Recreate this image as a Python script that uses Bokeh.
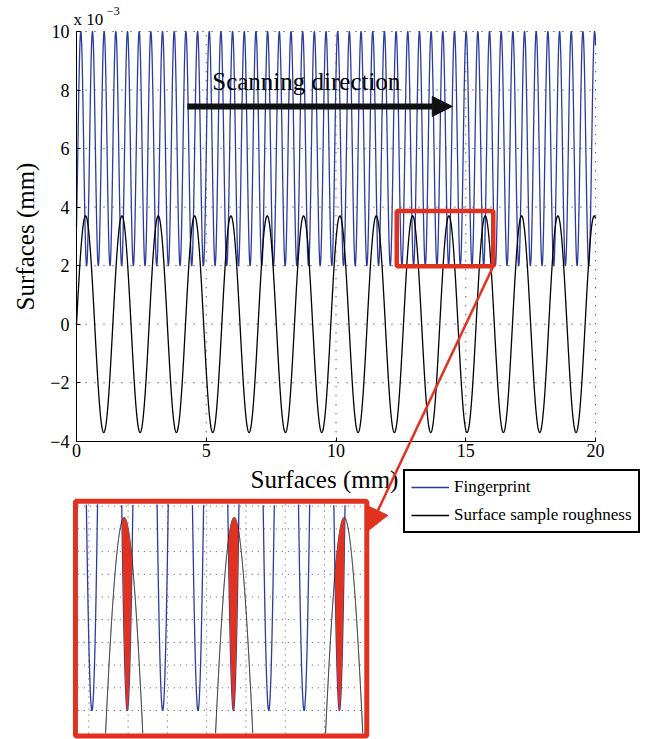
import numpy as np
from bokeh.plotting import figure
from bokeh.models import Range1d, FixedTicker, Legend, LegendItem, Arrow, NormalHead
from bokeh.embed import file_html
from bokeh.resources import INLINE
from bokeh.core.properties import value

# ---------------- data (surface heights in 1e-3 mm) ----------------
x_ticks = [0, 5, 10, 15, 20]
y_ticks = [-4, -2, 0, 2, 4, 6, 8, 10]
y_tick_labels = {-4: "\u22124", -2: "\u22122", 0: "0", 2: "2", 4: "4", 6: "6", 8: "8", 10: "10"}
x_extent = [0.0, 20.0]
y_extent = [-4.0, 10.0]
axis_title = "Surfaces (mm)"

# Fingerprint: oscillates between 2 and 10 (x1e-3), period ~0.45 mm, first trough at ~0.39 mm
fingerprint_mean = 6.0
fingerprint_amplitude = 4.0
fingerprint_period = 0.45
fingerprint_first_trough = 0.39
# Surface sample roughness: amplitude ~3.7 (x1e-3), period ~1.4 mm, starts at 0 going up
roughness_amplitude = 3.7
roughness_period = 1.4

# zoomed window (red box in the main plot) and the inset's view
zoom_box_x = [12.34, 16.06]
zoom_box_y = [1.98, 3.87]
inset_view_x = [12.36, 16.00]
inset_view_y = [1.797, 3.821]
inset_x_grid = [12.5, 13.0, 13.5, 14.0, 14.5, 15.0, 15.5]
inset_y_grid = [2.0, 2.2, 2.4, 2.6, 2.8, 3.0, 3.2, 3.4, 3.6, 3.8]

series_names = ["Fingerprint", "Surface sample roughness"]

# ---------------- styles / layout ----------------
BLUE = "#2b3c9e"
RED = "#e1321f"
SERIF = "Liberation Serif"
W, H = 646, 739

def fingerprint(x):
    return fingerprint_mean - fingerprint_amplitude * np.cos(2 * np.pi * (x - fingerprint_first_trough) / fingerprint_period)

def roughness(x):
    return roughness_amplitude * np.sin(2 * np.pi * x / roughness_period)

xs = np.linspace(x_extent[0], x_extent[1], 16001)
fp = fingerprint(xs)
rg = roughness(xs)

p = figure(width=W, height=H,
           x_range=Range1d(-2.929, 21.965), y_range=Range1d(-14.189, 11.059),
           min_border=0, min_border_left=0, min_border_right=0, min_border_top=0, min_border_bottom=0,
           toolbar_location=None, output_backend="svg")
p.title.visible = False
p.outline_line_color = None
p.xgrid.visible = False
p.ygrid.visible = False
p.background_fill_color = "white"
p.border_fill_color = "white"

# inset ranges (map the whole frame)
p.extra_x_ranges = {"ix": Range1d(11.376, 19.598)}
p.extra_y_ranges = {"iy": Range1d(1.7445, 8.2555)}

# ---------------- main plot grid ----------------
gx = [t for t in x_ticks if t > x_extent[0]]
p.segment(x0=gx, x1=gx, y0=[y_extent[0]] * len(gx), y1=[y_extent[1]] * len(gx),
          line_color="#222222", line_width=1, line_dash="1 8")
gy = [t for t in y_ticks if t > y_extent[0]]
p.segment(x0=[x_extent[0]] * len(gy), x1=[x_extent[1]] * len(gy), y0=gy, y1=gy,
          line_color="#222222", line_width=1, line_dash="1 8")

# ---------------- main curves ----------------
r_fp = p.line(xs, fp, line_color=BLUE, line_width=1.3)
r_rg = p.line(xs, rg, line_color="black", line_width=1.3)

# red zoom box
p.quad(left=[zoom_box_x[0]], right=[zoom_box_x[1]], bottom=[zoom_box_y[0]], top=[zoom_box_y[1]],
       fill_color=None, line_color=RED, line_width=4.5)

# scanning direction
p.add_layout(Arrow(x_start=4.27, y_start=7.44, x_end=14.48, y_end=7.44,
                   line_color="#111111", line_width=6,
                   end=NormalHead(size=20, fill_color="#111111", line_color="#111111")))
p.text(x=[5.23], y=[8.275], text=["Scanning direction"], text_font=value(SERIF),
       text_font_size="25px", text_baseline="middle", text_align="left", text_color="black")

# exponent label
p.text(x=[-0.12], y=[10.41], text=["x 10"], text_font=value(SERIF), text_font_size="17px",
       text_baseline="middle", text_align="left", text_color="black")
p.text(x=[1.17], y=[10.69], text=["\u22123"], text_font=value(SERIF), text_font_size="12px",
       text_baseline="middle", text_align="left", text_color="black")

# x axis title (placed as in the picture, slightly left of the axis centre)
p.text(x=[9.557], y=[-5.306], text=[axis_title], text_font=value(SERIF), text_font_size="25px",
       text_baseline="middle", text_align="center", text_color="black")

# ---------------- axes ----------------
xa = p.xaxis[0]
xa.fixed_location = y_extent[0]
xa.bounds = (x_extent[0], x_extent[1])
xa.ticker = FixedTicker(ticks=x_ticks)
ya = p.yaxis[0]
ya.fixed_location = x_extent[0]
ya.bounds = (y_extent[0], y_extent[1])
ya.ticker = FixedTicker(ticks=y_ticks)
ya.major_label_overrides = y_tick_labels
for ax in (xa, ya):
    ax.major_tick_in = 4
    ax.major_tick_out = 0
    ax.minor_tick_in = 0
    ax.minor_tick_out = 0
    ax.axis_line_color = "black"
    ax.axis_line_width = 1
    ax.major_tick_line_color = "black"
    ax.major_label_text_font = SERIF
    ax.major_label_text_font_size = "18px"
    ax.major_label_text_color = "black"
    ax.axis_label_text_font = SERIF
    ax.axis_label_text_font_size = "25px"
    ax.axis_label_text_font_style = "normal"
    ax.axis_label_text_color = "black"
ya.axis_label = axis_title
xa.major_label_standoff = 3
ya.major_label_standoff = 7
ya.axis_label_standoff = 8

# ---------------- inset ----------------
xi = np.linspace(inset_view_x[0], inset_view_x[1], 12001)
fpi = fingerprint(xi)
rgi = roughness(xi)
fpi_c = np.where((fpi > inset_view_y[1]) | (fpi < inset_view_y[0]), np.nan, fpi)
rgi_c = np.where((rgi > inset_view_y[1]) | (rgi < inset_view_y[0]), np.nan, rgi)

p.segment(x0=inset_x_grid, x1=inset_x_grid,
          y0=[inset_view_y[0]] * len(inset_x_grid), y1=[inset_view_y[1]] * len(inset_x_grid),
          line_color="#555555", line_width=1, line_dash="1 5", x_range_name="ix", y_range_name="iy")
p.segment(x0=[inset_view_x[0]] * len(inset_y_grid), x1=[inset_view_x[1]] * len(inset_y_grid),
          y0=inset_y_grid, y1=inset_y_grid,
          line_color="#555555", line_width=1, line_dash="1 5", x_range_name="ix", y_range_name="iy")

p.line(xi, fpi_c, line_color=BLUE, line_width=1.3, x_range_name="ix", y_range_name="iy")
p.line(xi, rgi_c, line_color="black", line_width=1.0, x_range_name="ix", y_range_name="iy")
p.varea(x=xi, y1=np.minimum(fpi, rgi), y2=rgi, fill_color=RED, fill_alpha=1.0,
        x_range_name="ix", y_range_name="iy")

p.quad(left=[12.33], right=[16.038], bottom=[1.775], top=[3.843], fill_color=None,
       line_color=RED, line_width=5, x_range_name="ix", y_range_name="iy")

# connector arrow from zoom box corner to inset
p.add_layout(Arrow(x_start=zoom_box_x[1], y_start=zoom_box_y[0], x_end=11.25, y_end=-7.05,
                   line_color=RED, line_width=2.5,
                   end=NormalHead(size=22, fill_color=RED, line_color=RED)))

# ---------------- legend ----------------
legend = Legend(items=[LegendItem(label=series_names[0], renderers=[r_fp]),
                       LegendItem(label=series_names[1], renderers=[r_rg])],
                location=(403, 206), orientation="vertical",
                glyph_width=38, glyph_height=20, label_height=20, label_standoff=5,
                padding=6, spacing=8, margin=0,
                border_line_color="black", border_line_width=2, border_line_alpha=1.0,
                background_fill_color="white", background_fill_alpha=1.0,
                label_text_font=SERIF, label_text_font_size="17px", label_text_color="black")
p.add_layout(legend)

open("out.html", "w").write(file_html(p, INLINE))
